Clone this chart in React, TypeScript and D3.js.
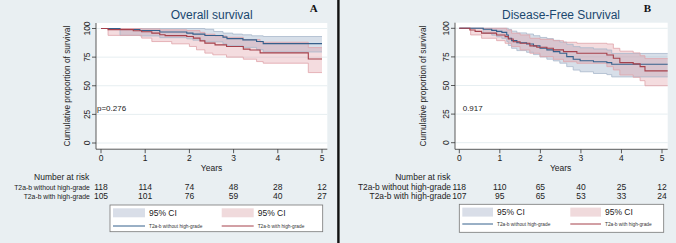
import React from 'react';
import * as d3 from 'd3';

type P = [number, number];

// ---------- data ----------
const yearTicks = [0, 1, 2, 3, 4, 5];
const survTicks = [0, 25, 50, 75, 100];
const groupLabels = ['T2a-b without high-grade', 'T2a-b with high-grade'];

const osRiskWithout = [118, 114, 74, 48, 28, 12];
const osRiskWith = [105, 101, 76, 59, 40, 27];
const dfsRiskWithout = [118, 110, 65, 40, 25, 12];
const dfsRiskWith = [107, 95, 65, 53, 33, 24];

// Overall survival – without high-grade (blue)
const osBlue: P[] = [[0, 100], [0.43, 99.1], [0.88, 98.2], [1.33, 96.9], [1.94, 96.0], [2.08, 95.1], [2.35, 93.9], [2.76, 92.5], [2.85, 91.2], [3.21, 90.1], [3.52, 88.6], [3.67, 86.8]];
const osBlueUpper: P[] = [[0, 100], [2.35, 99.3], [2.55, 97.4], [2.76, 96.0], [2.98, 95.1], [3.2, 94.5], [3.41, 93.6], [3.67, 93.0]];
const osBlueLower: P[] = [[0, 100], [0.43, 94.0], [0.88, 93.5], [1.33, 92.0], [1.94, 91.0], [2.08, 89.8], [2.35, 88.3], [2.76, 86.5], [2.85, 85.0], [3.21, 83.5], [3.52, 81.5], [3.67, 79.5]];
// Overall survival – with high-grade (red)
const osRed: P[] = [[0, 100], [0.16, 99.0], [0.73, 98.1], [0.92, 97.2], [1.15, 96.0], [1.33, 94.6], [1.45, 93.8], [1.94, 93.0], [2.09, 91.6], [2.24, 89.2], [2.35, 87.2], [2.58, 85.7], [2.84, 84.3], [3.22, 82.0], [3.37, 81.2], [3.6, 78.7], [4.69, 73.4]];
const osRedUpper: P[] = [[0, 100], [0.92, 99.6], [1.33, 98.8], [1.94, 98.2], [2.24, 96.6], [2.35, 95.0], [2.58, 93.5], [2.84, 92.3], [3.22, 90.4], [3.6, 88.0], [4.69, 83.3]];
const osRedLower: P[] = [[0, 100], [0.16, 94.0], [0.92, 91.6], [1.15, 88.6], [1.6, 86.6], [2.0, 84.3], [2.16, 81.4], [2.35, 78.5], [2.53, 77.0], [2.84, 75.0], [3.22, 73.2], [3.52, 71.1], [3.67, 69.7], [4.69, 61.5]];

// Disease-free survival – without high-grade (blue)
const dfsBlue: P[] = [[0, 100], [0.59, 99.2], [0.8, 98.2], [0.92, 97.3], [1.05, 96.4], [1.17, 94.2], [1.21, 91.3], [1.29, 89.2], [1.42, 87.4], [1.66, 86.3], [1.83, 84.6], [1.99, 82.5], [2.16, 81.1], [2.32, 79.6], [2.48, 78.2], [2.65, 75.2], [2.81, 72.9], [2.98, 71.7], [3.31, 70.8], [3.64, 70.0], [3.76, 68.6]];
const dfsBlueUpper: P[] = [[0, 100], [1.21, 99.0], [1.29, 97.5], [1.42, 96.0], [1.66, 95.0], [1.83, 93.5], [1.99, 92.0], [2.16, 91.0], [2.32, 89.5], [2.48, 88.0], [2.65, 86.0], [2.81, 84.0], [2.98, 83.0], [3.31, 82.0], [3.64, 81.0], [3.76, 78.0]];
const dfsBlueLower: P[] = [[0, 100], [0.59, 95.5], [0.8, 94.0], [0.92, 92.5], [1.05, 91.0], [1.17, 88.5], [1.21, 85.0], [1.29, 82.5], [1.42, 80.5], [1.66, 79.0], [1.83, 77.0], [1.99, 75.0], [2.16, 73.0], [2.32, 71.5], [2.48, 69.5], [2.65, 66.5], [2.81, 63.5], [2.98, 62.0], [3.31, 60.5], [3.64, 59.5], [3.76, 57.5]];
// Disease-free survival – with high-grade (red)
const dfsRed: P[] = [[0, 100], [0.26, 98.5], [0.39, 97.3], [0.55, 95.8], [0.92, 94.2], [1.13, 92.7], [1.21, 90.7], [1.33, 88.3], [1.5, 86.9], [1.74, 84.6], [1.91, 83.4], [2.16, 82.5], [2.32, 81.1], [2.57, 79.6], [2.9, 78.2], [3.64, 76.7], [3.8, 73.8], [3.96, 70.0], [4.29, 68.9], [4.46, 66.5], [4.58, 62.8]];
const dfsRedUpper: P[] = [[0, 100], [1.17, 98.5], [1.29, 95.7], [1.5, 94.2], [1.74, 91.3], [1.99, 90.4], [2.32, 89.2], [2.57, 87.8], [2.9, 86.9], [3.64, 86.3], [3.8, 82.5], [3.96, 80.0], [4.29, 78.5], [4.46, 76.0], [4.58, 73.5]];
const dfsRedLower: P[] = [[0, 100], [0.28, 94.2], [0.55, 91.3], [0.92, 89.2], [1.13, 86.9], [1.29, 84.0], [1.5, 81.1], [1.74, 78.2], [1.99, 75.2], [2.32, 72.9], [2.57, 70.8], [2.9, 69.4], [3.64, 66.5], [3.8, 63.6], [3.96, 59.2], [4.29, 57.2], [4.46, 54.2], [4.58, 49.8]];

// ---------- styles ----------
const BG = '#e9eff2';
const GRID = '#e6eef1';
const BLUE = '#35608c';
const RED = '#a5404b';
const BLUE_FILL = 'rgba(150,170,196,0.38)';
const BLUE_EDGE = '#a9b9cc';
const RED_FILL = 'rgba(220,140,150,0.30)';
const RED_EDGE = '#dfa3a9';
const TITLE = '#1a476f';
const FONT = '"Liberation Sans", Arial, sans-serif';

function stepAt(pts: P[], t: number) {
  let v = pts[0][1];
  for (const p of pts) if (p[0] <= t) v = p[1];
  return v;
}

function withEnd(pts: P[], tEnd: number): P[] {
  return [...pts, [tEnd, pts[pts.length - 1][1]]];
}

type Layout = {
  xr: [number, number];
  yr: [number, number];
  plot: { l: number; r: number; t: number; b: number };
  tickLabX: number;
  yTitleX: number;
  titleX: number;
  letterX: number;
  tEnd: number;
  pX: number;
  riskLabX: number;
  riskLabSize: number;
  legend: { x: number; y: number; w: number; h: number; sw: number; col2: number; lineY: number };
};

function Panel(props: {
  title: string;
  letter: string;
  pText: string;
  riskA: number[];
  riskB: number[];
  blue: P[];
  blueU: P[];
  blueL: P[];
  red: P[];
  redU: P[];
  redL: P[];
  L: Layout;
}) {
  const { L } = props;
  const x = d3.scaleLinear().domain([0, 5]).range(L.xr);
  const y = d3.scaleLinear().domain([0, 100]).range(L.yr);
  const line = d3.line<P>().x(d => x(d[0])).y(d => y(d[1])).curve(d3.curveStepAfter);
  const band = (u: P[], l: P[]) => {
    const ts = Array.from(new Set([...u.map(d => d[0]), ...l.map(d => d[0]), L.tEnd])).sort((a, b) => a - b);
    const rows = ts.map(t => ({ t, u: stepAt(u, t), l: stepAt(l, t) }));
    return d3.area<{ t: number; u: number; l: number }>()
      .x(d => x(d.t)).y0(d => y(d.l)).y1(d => y(d.u)).curve(d3.curveStepAfter)(rows) || '';
  };
  const { plot, legend: lg } = L;
  const riskY = [189.8, 199.2];
  return (
    <g fontFamily={FONT}>
      <rect x={plot.l} y={plot.t} width={plot.r - plot.l} height={plot.b - plot.t} fill="#fff" />
      {survTicks.map(v => (
        <line key={'g' + v} x1={plot.l} x2={plot.r} y1={y(v)} y2={y(v)} stroke={GRID} strokeWidth={1} />
      ))}
      {/* CI bands */}
      <path d={band(props.blueU, props.blueL)} fill={BLUE_FILL} />
      <path d={band(props.redU, props.redL)} fill={RED_FILL} />
      <path d={line(withEnd(props.blueU, L.tEnd)) || ''} fill="none" stroke={BLUE_EDGE} strokeWidth={0.8} />
      <path d={line(withEnd(props.blueL, L.tEnd)) || ''} fill="none" stroke={BLUE_EDGE} strokeWidth={0.8} />
      <path d={line(withEnd(props.redU, L.tEnd)) || ''} fill="none" stroke={RED_EDGE} strokeWidth={0.8} />
      <path d={line(withEnd(props.redL, L.tEnd)) || ''} fill="none" stroke={RED_EDGE} strokeWidth={0.8} />
      {/* survival curves */}
      <path d={line(withEnd(props.blue, L.tEnd)) || ''} fill="none" stroke={BLUE} strokeWidth={1.1} />
      <path d={line(withEnd(props.red, L.tEnd)) || ''} fill="none" stroke={RED} strokeWidth={1.1} />
      {/* axes */}
      <line x1={plot.l} x2={plot.l} y1={plot.t} y2={plot.b} stroke="#333" strokeWidth={0.8} />
      <line x1={plot.l} x2={plot.r} y1={plot.b} y2={plot.b} stroke="#333" strokeWidth={0.8} />
      {survTicks.map(v => (
        <g key={'yt' + v}>
          <line x1={plot.l - 4} x2={plot.l} y1={y(v)} y2={y(v)} stroke="#333" strokeWidth={0.8} />
          <text transform={`translate(${L.tickLabX},${y(v)}) rotate(-90)`} textAnchor="middle" dy="0.35em" fontSize={8.5} fill="#222">{v}</text>
        </g>
      ))}
      {yearTicks.map(v => (
        <g key={'xt' + v}>
          <line x1={x(v)} x2={x(v)} y1={plot.b} y2={plot.b + 4} stroke="#333" strokeWidth={0.8} />
          <text x={x(v)} y={plot.b + 8.5} textAnchor="middle" dy="0.35em" fontSize={8.5} fill="#222">{v}</text>
        </g>
      ))}
      <text x={(L.xr[0] + L.xr[1]) / 2} y={plot.b + 18.5} textAnchor="middle" dy="0.35em" fontSize={8.5} fill="#222">Years</text>
      <text transform={`translate(${L.yTitleX},${(plot.t + plot.b) / 2}) rotate(-90)`} textAnchor="middle" dy="0.35em" fontSize={8.3} fill="#222">Cumulative proportion of survival</text>
      <text x={L.titleX} y={15} textAnchor="middle" dy="0.35em" fontSize={12} fill={TITLE}>{props.title}</text>
      <text x={L.letterX} y={8} textAnchor="middle" dy="0.35em" fontSize={11} fontWeight="bold" fontFamily='"Liberation Serif", "Times New Roman", serif' fill="#111">{props.letter}</text>
      <text x={L.pX} y={107.7} dy="0.35em" fontSize={8} fill="#222">{props.pText}</text>
      {/* number at risk */}
      <text x={L.riskLabX} y={180} textAnchor="end" fontSize={8.5} fill="#222">Number at risk</text>
      {groupLabels.map((g, i) => (
        <text key={g} x={L.riskLabX + 0.5} y={riskY[i]} textAnchor="end" fontSize={L.riskLabSize} fill="#222">{g}</text>
      ))}
      {[props.riskA, props.riskB].map((arr, i) =>
        arr.map((n, j) => (
          <text key={i + '-' + j} x={x(yearTicks[j])} y={riskY[i]} textAnchor="middle" fontSize={8.5} fill="#222">{n}</text>
        ))
      )}
      {/* legend */}
      <rect x={lg.x} y={lg.y} width={lg.w} height={lg.h} fill="#fff" stroke="#777" strokeWidth={0.8} />
      <rect x={lg.x + 3} y={lg.y + 3.3} width={lg.sw} height={9} fill="#d9dee8" />
      <rect x={lg.x + lg.col2} y={lg.y + 3.3} width={lg.sw} height={9} fill="#f0dadc" />
      <text x={lg.x + 3 + lg.sw + 4} y={lg.y + 7.8} dy="0.35em" fontSize={8.5} fill="#222">95% CI</text>
      <text x={lg.x + lg.col2 + lg.sw + 4} y={lg.y + 7.8} dy="0.35em" fontSize={8.5} fill="#222">95% CI</text>
      <line x1={lg.x + 3} x2={lg.x + 3 + lg.sw} y1={lg.lineY} y2={lg.lineY} stroke={BLUE} strokeWidth={1} />
      <line x1={lg.x + lg.col2} x2={lg.x + lg.col2 + lg.sw} y1={lg.lineY} y2={lg.lineY} stroke={RED} strokeWidth={1} />
      <text x={lg.x + 3 + lg.sw + 4} y={lg.lineY} dy="0.35em" fontSize={4.8} fill="#333">{groupLabels[0]}</text>
      <text x={lg.x + lg.col2 + lg.sw + 4} y={lg.lineY} dy="0.35em" fontSize={4.8} fill="#333">{groupLabels[1]}</text>
    </g>
  );
}

const leftLayout: Layout = {
  xr: [101, 322],
  yr: [143, 28.5],
  plot: { l: 96, r: 327.3, t: 23, b: 149.2 },
  tickLabX: 87,
  yTitleX: 67,
  titleX: 211.7,
  letterX: 313.8,
  tEnd: 5.0,
  pX: 97,
  riskLabX: 89.3,
  riskLabSize: 6.8,
  legend: { x: 110, y: 205, w: 212.7, h: 26.7, sw: 32, col2: 111.7, lineY: 226 },
};

const rightLayout: Layout = {
  xr: [459.3, 662],
  yr: [142.7, 28.3],
  plot: { l: 455, r: 667.7, t: 22.7, b: 149.3 },
  tickLabX: 446,
  yTitleX: 423,
  titleX: 561,
  letterX: 647.3,
  tEnd: 5.14,
  pX: 462.7,
  riskLabX: 450.5,
  riskLabSize: 8.4,
  legend: { x: 459.3, y: 204.3, w: 204.4, h: 28, sw: 30.7, col2: 111, lineY: 224 },
};

export default function App() {
  return (
    <>
      <style>{`body{margin:0}`}</style>
      <svg width={676} height={243} style={{ display: 'block' }}>
        <rect x={0} y={0} width={676} height={243} fill={BG} />
        <Panel title="Overall survival" letter="A" pText="p=0.276" riskA={osRiskWithout} riskB={osRiskWith}
          blue={osBlue} blueU={osBlueUpper} blueL={osBlueLower} red={osRed} redU={osRedUpper} redL={osRedLower} L={leftLayout} />
        <Panel title="Disease-Free Survival" letter="B" pText="0.917" riskA={dfsRiskWithout} riskB={dfsRiskWith}
          blue={dfsBlue} blueU={dfsBlueUpper} blueL={dfsBlueLower} red={dfsRed} redU={dfsRedUpper} redL={dfsRedLower} L={rightLayout} />
        <rect x={337.2} y={0} width={2.4} height={243} fill="#111" />
      </svg>
    </>
  );
}
